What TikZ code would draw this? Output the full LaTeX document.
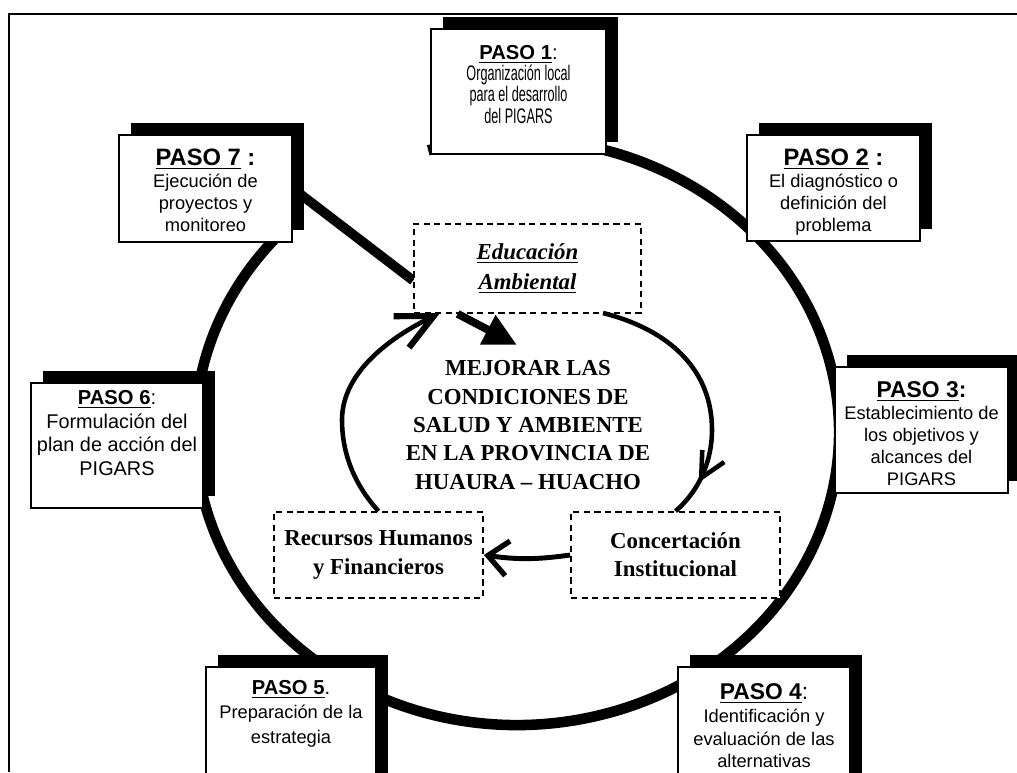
\documentclass[tikz,border=0pt]{standalone}
\usepackage{fontspec}
\setmainfont{Liberation Serif}
\setsansfont{Liberation Sans}
\newfontfamily\narrowsf[FakeStretch=0.6]{Liberation Sans}
\usetikzlibrary{arrows.meta,shadows,backgrounds,positioning,decorations.markings}
\newcommand\hd[3]{{\sffamily\fontsize{#1}{#1}\selectfont\underline{\bfseries #2}#3}}

\begin{document}
\begin{tikzpicture}
[x=0.02cm,y=-0.02cm]
\tikzset{paso/.style={draw,line width=1.1pt,fill=white,
  drop shadow={shadow xshift=.24cm,shadow yshift=.24cm,fill=black,opacity=1}}}
\tikzset{pasotxt/.style={align=center,inner sep=0pt,font=\sffamily\fontsize{10.4}{12.5}\selectfont}}
\tikzset{dbox/.style={draw,dash pattern=on 3.5pt off 2.5pt,line width=1pt,fill=white,
  minimum width=4.18cm,minimum height=1.72cm,align=center,font=\bfseries\fontsize{13}{16}\selectfont}}
\tikzset{ring/.style={line width=6pt}}
\tikzset{innerline/.style={line width=2.6pt}}

\useasboundingbox (0,0) rectangle (1017,772);

% the seven steps
\node [paso,minimum width=3.5cm,minimum height=2.5cm] (p1) at (518.5,91.5) {};
\node [paso,minimum width=3.46cm,minimum height=2.12cm] (p2) at (833.5,188) {};
\node [paso,minimum width=3.46cm,minimum height=2.52cm] (p3) at (921.5,430) {};
\node [paso,minimum width=3.44cm,minimum height=2.8cm] (p4) at (764,737) {};
\node [paso,minimum width=3.4cm,minimum height=2.8cm] (p5) at (291,737) {};
\node [paso,minimum width=3.44cm,minimum height=2.5cm] (p6) at (117,445.5) {};
\node [paso,minimum width=3.46cm,minimum height=2.14cm] (p7) at (205.5,188.5) {};

\node [pasotxt,font=\narrowsf\fontsize{12}{10.6}\selectfont,below=0.34cm of p1.north] (t1)
  {\hd{11.5}{PASO 1}{:}\\Organización local\\para el desarrollo\\del PIGARS};
\node [pasotxt,below=0.3cm of p2.north] (t2)
  {\hd{13.5}{PASO 2}{\bfseries\ :}\\El diagnóstico o\\definición del\\problema};
\node [pasotxt,below=0.3cm of p3.north] (t3)
  {\hd{13}{PASO 3}{\bfseries :}\\Establecimiento de\\los objetivos y\\alcances del\\PIGARS};
\node [pasotxt,font=\sffamily\fontsize{10.4}{13}\selectfont,below=0.34cm of p4.north] (t4)
  {\hd{13}{PASO 4}{:}\\Identificación y\\evaluación de las\\alternativas};
\node [pasotxt,font=\sffamily\fontsize{10.4}{13.8}\selectfont,below=0.28cm of p5.north] (t5)
  {\hd{11.5}{PASO 5}{.}\\Preparación de la\\estrategia};
\node [pasotxt,font=\sffamily\fontsize{11.3}{13.5}\selectfont,below=0.16cm of p6.north] (t6)
  {\hd{11.5}{PASO 6}{:}\\Formulación del\\plan de acción del\\PIGARS};
\node [pasotxt,below=0.3cm of p7.north] (t7)
  {\hd{13.5}{PASO 7}{\bfseries\ :}\\Ejecución de\\proyectos y\\monitoreo};

% inner cycle
\node [dbox,minimum width=4.54cm,minimum height=1.78cm,font=\bfseries\itshape\fontsize{13}{17}\selectfont] (edu) at (527.5,268.5)
  {\underline{Educación}\\\underline{Ambiental}};
\node [dbox] (rec) at (378.5,555) {Recursos Humanos\\y Financieros};
\node [dbox] (con) at (675.5,555) {Concertación\\Institucional};
\node [align=center,font=\bfseries\fontsize{13}{16.2}\selectfont] (goal) at (528,425)
  {MEJORAR LAS\\CONDICIONES DE\\SALUD Y AMBIENTE\\EN LA PROVINCIA DE\\HUAURA – HUACHO};

\coordinate (ltip) at (440,313);
\coordinate (rtop) at (603,313);
\coordinate (fattip) at (517,345);

\begin{scope}[on background layer]
\draw [line width=1.1pt] (9,772) -- (9,14) -- (1017,14);
\draw [ring] (517,432) ++(-106:322 and 293) arc[start angle=-106,end angle=222,x radius=322,y radius=293];
\draw [line width=5.5pt] (edu.186) -- (p7.east);
\end{scope}

\draw [innerline,-{Straight Barb[length=0.72cm,width=0.7cm,line width=3.5pt]}]
  (rec.north) .. controls (352,482) and (342,450) .. (342,420) .. controls (342,370) and (395,335) .. (ltip);
\draw [innerline,postaction={decorate},
  decoration={markings,mark=at position 0.86 with {\arrow{Straight Barb[length=0.5cm,width=0.5cm,line width=2.6pt]}}}]
  (rtop) .. controls (670,330) and (712,370) .. (712,430) .. controls (712,460) and (700,490) .. (con.north);
\draw [line width=4.5pt,-{Triangle[length=0.66cm,width=0.62cm]}] (edu.213) -- (fattip);
\draw [line width=2.8pt,-{Straight Barb[length=0.4cm,width=0.7cm,line width=3pt]}] (con.west) to[bend left=8] (rec.east);

\end{tikzpicture}
\end{document}
